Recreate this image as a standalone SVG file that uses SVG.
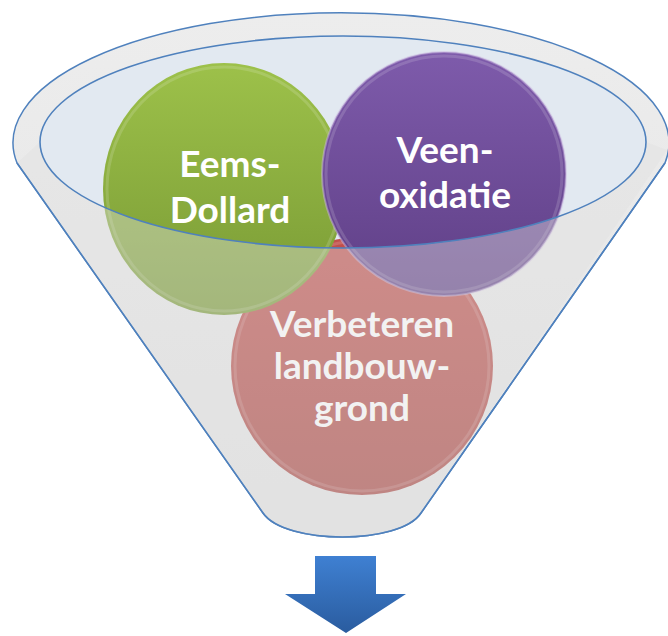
<svg xmlns="http://www.w3.org/2000/svg" width="668" height="636" viewBox="0 0 668 636">
<defs>
<style>
.lbl{font-family:Lato,"Liberation Sans",sans-serif;font-weight:bold;font-size:37px;text-anchor:middle;fill:#ffffff}
.rim{fill:none;stroke:#4F81BD;stroke-width:1.6}
.ring{fill:none;stroke:#ffffff;stroke-opacity:0.15;stroke-width:3}
</style>
<linearGradient id="gBody" x1="0" y1="0" x2="0" y2="1">
<stop offset="0" stop-color="#EDEDED"/><stop offset="1" stop-color="#E3E3E3"/>
</linearGradient>
<linearGradient id="gGreen" x1="0" y1="0" x2="0" y2="1">
<stop offset="0" stop-color="#9DC14A"/><stop offset="1" stop-color="#789934"/>
</linearGradient>
<linearGradient id="gPurple" x1="0" y1="0" x2="0" y2="1">
<stop offset="0" stop-color="#7E5BAB"/><stop offset="1" stop-color="#5F3F86"/>
</linearGradient>
<linearGradient id="gRed" x1="0" y1="0" x2="0" y2="1">
<stop offset="0" stop-color="#C24F4B"/><stop offset="1" stop-color="#A84440"/>
</linearGradient>
<linearGradient id="gArrow" x1="0" y1="0" x2="0" y2="1">
<stop offset="0" stop-color="#3F80D2"/><stop offset="1" stop-color="#2A5C9F"/>
</linearGradient>
</defs>

<g id="funnel">
<path d="M17,163 A328,130 0 1 1 665,163 L421,513 C400,545 285,545 263,513 Z" fill="url(#gBody)" stroke="#4F81BD" stroke-width="1.5"/>
<ellipse cx="343" cy="142" rx="303" ry="106" fill="#E2E9F1"/>
</g>

<g id="node-verbeteren">
<ellipse cx="362" cy="366" rx="131" ry="129" fill="url(#gRed)"/>
<ellipse cx="362" cy="366" rx="127" ry="125" class="ring"/>
<text class="lbl" x="362" y="337">Verbeteren</text>
<text class="lbl" x="362" y="379">landbouw-</text>
<text class="lbl" x="362" y="421">grond</text>
</g>

<g id="node-eems">
<ellipse cx="224" cy="189" rx="121" ry="126" fill="url(#gGreen)"/>
<ellipse cx="224" cy="189" rx="117" ry="122" class="ring"/>
<text class="lbl" x="230" y="177">Eems-</text>
<text class="lbl" x="230" y="223">Dollard</text>
</g>

<g id="node-veen">
<ellipse cx="444" cy="174" rx="122" ry="122" fill="url(#gPurple)" stroke="#C9B6E0" stroke-width="2" stroke-opacity="0.5"/>
<ellipse cx="444" cy="174" rx="118" ry="118" class="ring"/>
<text class="lbl" x="445" y="163">Veen-</text>
<text class="lbl" x="445" y="208">oxidatie</text>
</g>

<g id="funnel-front">
<path d="M40,142 A303,106 0 0 0 646,142 L667,150 L421,513 C400,545 285,545 263,513 L17,163 Z" fill="#E0E0E0" fill-opacity="0.42"/>
<path d="M17,163 L263,513 C285,545 400,545 421,513 L665,163" class="rim"/>
<ellipse cx="343" cy="142" rx="303" ry="106" class="rim"/>
</g>

<g id="connectors">
<polygon points="315,556 376,556 376,594 406,594 346,633 285,594 315,594" fill="url(#gArrow)"/>
</g>
</svg>
